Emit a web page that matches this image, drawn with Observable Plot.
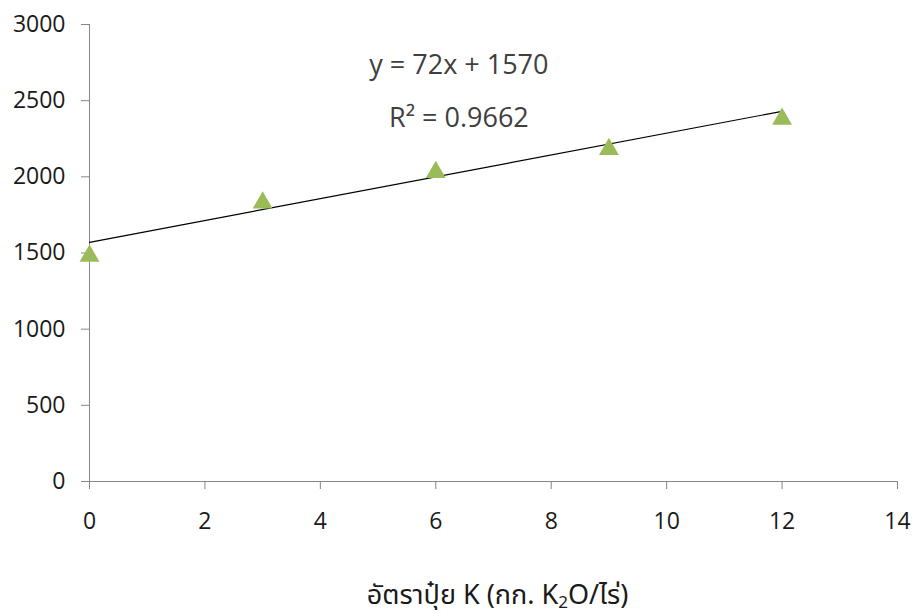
<!DOCTYPE html>
<html>
<head>
<meta charset="utf-8">
<script src="https://cdn.jsdelivr.net/npm/d3@7"></script>
<script src="https://cdn.jsdelivr.net/npm/@observablehq/plot@0.6"></script>
<style>
  html, body { margin: 0; padding: 0; background: #fff; }
  #chart { width: 915px; height: 560px; }
  #xlabel {
    width: 915px; box-sizing: border-box; padding-left: 80px;
    text-align: center; font-family: "Noto Sans Thai", "Noto Sans", "Open Sans", sans-serif;
    font-size: 27px; color: #1a1a1a; margin-top: 22px; line-height: 28px;
  }
  #xlabel sub { font-size: 17px; vertical-align: -4px; line-height: 0; }
</style>
</head>
<body>
<div id="chart"></div>
<div id="xlabel">อัตราปุ๋ย K (กก. K<sub>2</sub>O/ไร่)</div>
<script>
// Data
const rates = [0, 3, 6, 9, 12];            // K fertilizer rate (kg K2O / rai)
const yields = [1500, 1850, 2050, 2200, 2400];
const xTicks = [0, 2, 4, 6, 8, 10, 12, 14];
const yTicks = [0, 500, 1000, 1500, 2000, 2500, 3000];
const equation = ["y = 72x + 1570"];
const rSquared = ["R² = 0.9662"];

const data = rates.map((r, i) => ({x: r, y: yields[i]}));

const plot = Plot.plot({
  width: 915,
  height: 560,
  marginLeft: 89,
  marginRight: 18,
  marginTop: 24,
  marginBottom: 79,
  style: {fontFamily: "'Open Sans', 'DejaVu Sans', sans-serif", fontSize: "23px", color: "#1a1a1a", background: "#fff"},
  x: {domain: [0, 14], label: null},
  y: {domain: [0, 3000], label: null},
  marks: [
    Plot.axisX({ticks: xTicks, tickFormat: "d", tickSize: 8, tickPadding: 23, stroke: "#868686", strokeOpacity: 1, fill: "#1a1a1a", label: null, fontSize: 23}),
    Plot.axisY({ticks: yTicks, tickFormat: "d", tickSize: 8, tickPadding: 16, stroke: "#868686", strokeOpacity: 1, fill: "#1a1a1a", label: null, fontSize: 23}),
    Plot.ruleX([0], {stroke: "#868686"}),
    Plot.ruleY([0], {stroke: "#868686"}),
    Plot.linearRegressionY(data, {x: "x", y: "y", ci: 0, stroke: "#000", strokeWidth: 1.2}),
    Plot.dot(data, {x: "x", y: "y", symbol: "triangle", r: 7.4, fill: "#9BBB59", stroke: "none", dy: 3}),
    Plot.text(equation, {x: 6.4, y: 2735, text: d => d, fontSize: 27, fill: "#404040", textAnchor: "middle", fontFamily: "'Open Sans', sans-serif"}),
    Plot.text(rSquared, {x: 6.4, y: 2385, text: d => d, fontSize: 27, fill: "#404040", textAnchor: "middle", fontFamily: "'Open Sans', sans-serif"})
  ]
});
document.getElementById("chart").appendChild(plot);
</script>
</body>
</html>
